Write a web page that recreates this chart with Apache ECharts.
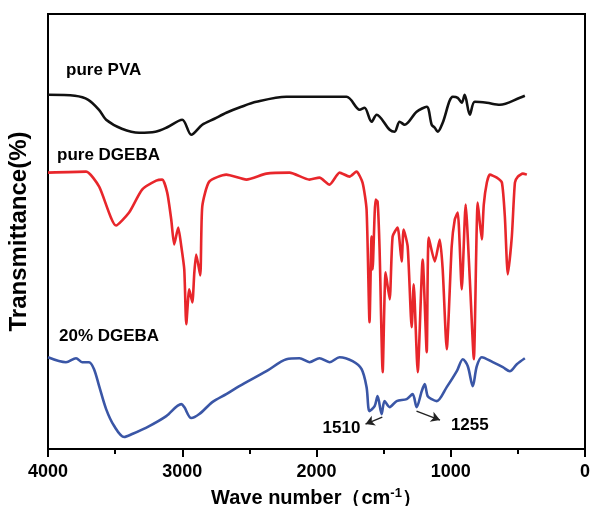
<!DOCTYPE html>
<html lang="en">
<head>
    <meta charset="UTF-8">
    <title>FTIR spectra</title>
    <style>
        body { margin: 0; background: #fff; }
        #chart { width: 590px; height: 506px; }
    </style>
    <script src="https://cdn.jsdelivr.net/npm/echarts@6/dist/echarts.min.js"></script>
</head>
<body>
<div id="chart"></div>
<script>
    // wavenumber (cm-1), transmittance (arbitrary, offset curves)
    var pvaWave = [4000, 3800, 3700, 3620, 3567, 3450, 3321, 3200, 3119, 3000, 2933, 2851, 2760, 2672, 2560, 2448, 2224, 1776, 1679, 1642, 1590, 1552, 1455, 1418, 1381, 1343, 1254, 1179, 1142, 1119, 1097, 1060, 985, 948, 918, 896, 858, 821, 731, 634, 485, 448];
    var pvaT = [355, 354, 350, 340, 330, 321, 317, 318, 322, 330, 315, 325, 331, 337, 343, 348, 353, 353, 340, 342, 328, 335, 320, 318, 328, 325, 338, 343, 325, 322, 318, 327, 353, 352, 347, 355, 335, 348, 347, 345, 352, 354];

    var dgebaWave = [4000, 3716, 3619, 3493, 3396, 3299, 3194, 3149, 3112, 3082, 3060, 3030, 3007, 2985, 2970, 2948, 2925, 2910, 2896, 2866, 2851, 2799, 2672, 2522, 2373, 2201, 2053, 1978, 1903, 1828, 1754, 1702, 1657, 1627, 1605, 1590, 1582, 1560, 1545, 1530, 1507, 1485, 1455, 1433, 1396, 1366, 1351, 1321, 1291, 1276, 1246, 1209, 1179, 1164, 1119, 1082, 1060, 1030, 993, 970, 948, 918, 889, 858, 828, 799, 769, 754, 731, 709, 657, 619, 597, 575, 545, 522, 500, 463, 433];
    var dgebaT = [277, 278, 263, 224, 237, 260, 269, 270, 257, 230, 205, 222, 203, 180, 125, 160, 147, 177, 195, 174, 243, 268, 275, 270, 276, 277, 270, 272, 265, 277, 273, 278, 267, 240, 127, 213, 180, 250, 248, 200, 77, 177, 150, 213, 222, 188, 220, 203, 122, 165, 77, 190, 97, 212, 188, 210, 180, 100, 203, 230, 237, 160, 245, 170, 90, 247, 210, 245, 267, 275, 272, 267, 233, 175, 213, 267, 273, 276, 275];

    var blendWave = [4000, 3866, 3791, 3746, 3694, 3657, 3619, 3567, 3507, 3433, 3373, 3246, 3119, 3007, 2985, 2933, 2873, 2776, 2672, 2575, 2373, 2224, 2127, 2052, 1978, 1903, 1828, 1731, 1664, 1627, 1605, 1567, 1545, 1515, 1493, 1455, 1403, 1328, 1284, 1254, 1216, 1194, 1172, 1142, 1104, 1030, 955, 910, 873, 836, 806, 769, 687, 612, 560, 508, 448];
    var blendT = [92, 87, 91, 87, 87, 80, 63, 40, 23, 12, 15, 23, 33, 45, 42, 31, 35, 47, 55, 63, 78, 90, 91, 87, 91, 87, 92, 88, 80, 62, 38, 43, 53, 35, 48, 42, 48, 50, 55, 42, 58, 65, 53, 50, 48, 62, 78, 90, 83, 63, 83, 92, 87, 82, 78, 85, 91];

    var xTicks = [0, 1000, 2000, 3000, 4000];

    function zip(xs, ys) {
        return xs.map(function (x, i) { return [x, ys[i]]; });
    }

    var font = '"Liberation Sans", Arial, sans-serif';
    var chart = echarts.init(document.getElementById('chart'));

    chart.setOption({
        animation: false,
        grid: {
            left: 48, right: 5, top: 14, bottom: 57, show: true, borderColor: '#000', borderWidth: 2,
            containLabel: false, outerBoundsMode: 'none'
        },
        xAxis: {
            type: 'value', min: 0, max: 4000, interval: 1000, inverse: true,
            name: 'Wave number（cm{sup|-1}）', nameLocation: 'middle', nameGap: 38,
            nameTextStyle: {
                fontFamily: font, fontSize: 20, fontWeight: 'bold', color: '#000',
                rich: { sup: { fontFamily: font, fontSize: 13, fontWeight: 'bold', color: '#000', verticalAlign: 'top', padding: [0, 0, 10, 0] } }
            },
            axisLine: { lineStyle: { color: '#000', width: 2 } },
            axisTick: { length: 8, lineStyle: { color: '#000', width: 2 } },
            minorTick: { show: true, splitNumber: 2, length: 5, lineStyle: { color: '#000', width: 2 } },
            axisLabel: {
                margin: 14, fontFamily: font, fontSize: 18, fontWeight: 'bold', color: '#000',
                formatter: function (v) { return String(v); },
                customValues: xTicks
            },
            splitLine: { show: false }
        },
        yAxis: {
            type: 'value', min: 0, max: 436,
            name: 'Transmittance(%)', nameLocation: 'middle', nameGap: 17, nameRotate: 90,
            nameTextStyle: { fontFamily: font, fontSize: 24, fontWeight: 'bold', color: '#000' },
            axisLine: { show: true, lineStyle: { color: '#000', width: 2 } },
            axisTick: { show: false },
            axisLabel: { show: false },
            splitLine: { show: false }
        },
        series: [
            {
                name: 'pure PVA', type: 'line', data: zip(pvaWave, pvaT), smooth: 0.3, showSymbol: false,
                lineStyle: { color: '#111', width: 2.6 }
            },
            {
                name: 'pure DGEBA', type: 'line', data: zip(dgebaWave, dgebaT), smooth: 0.2, showSymbol: false,
                lineStyle: { color: '#e8262b', width: 2.6 }
            },
            {
                name: '20% DGEBA', type: 'line', data: zip(blendWave, blendT), smooth: 0.3, showSymbol: false,
                lineStyle: { color: '#3a56a6', width: 2.6 },
                markLine: {
                    silent: true, symbol: ['none', 'arrow'], symbolSize: [8, 9],
                    lineStyle: { color: '#222', width: 1.4, type: 'solid' },
                    label: { show: false },
                    data: [
                        [{ coord: [1510, 32] }, { coord: [1635, 25] }],
                        [{ coord: [1255, 38] }, { coord: [1080, 29] }]
                    ]
                },
                markPoint: {
                    symbol: 'circle', symbolSize: 0, silent: true,
                    label: { show: true, fontFamily: font, fontSize: 17, fontWeight: 'bold', color: '#000', formatter: '{b}' },
                    data: [
                        { name: '1510', coord: [1814, 21] },
                        { name: '1255', coord: [858, 24] }
                    ]
                }
            }
        ],
        graphic: [
            { type: 'text', left: 66, top: 62, style: { text: 'pure PVA', font: 'bold 17px ' + font, fill: '#000' } },
            { type: 'text', left: 57, top: 147, style: { text: 'pure DGEBA', font: 'bold 17px ' + font, fill: '#000' } },
            { type: 'text', left: 59, top: 328, style: { text: '20% DGEBA', font: 'bold 17px ' + font, fill: '#000' } }
        ]
    });
</script>
</body>
</html>
